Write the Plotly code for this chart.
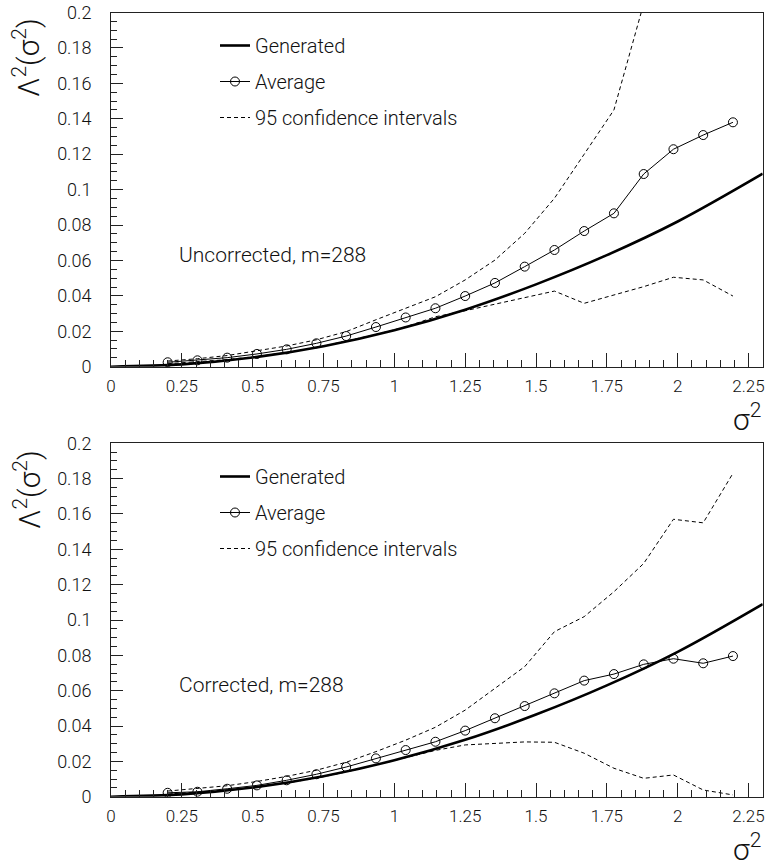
import plotly.graph_objects as go

# sigma^2 points of the averaged curves
sigma2 = [0.2, 0.305, 0.41, 0.515, 0.62, 0.725, 0.83, 0.935, 1.04, 1.145,
          1.25, 1.355, 1.46, 1.565, 1.67, 1.775, 1.88, 1.985, 2.09, 2.195]

# generated curve (same in both panels)
gen_x = [0, 0.25, 0.5, 0.75, 1.0, 1.25, 1.5, 1.75, 2.0, 2.3]
gen_y = [0, 0.0013, 0.0052, 0.0116, 0.0206, 0.0322, 0.0465, 0.063, 0.082, 0.109]

# uncorrected panel
avg_unc = [0.0025, 0.0036, 0.0051, 0.0072, 0.0098, 0.0132, 0.0173, 0.0224, 0.0278, 0.033,
           0.0399, 0.0473, 0.0565, 0.0659, 0.0766, 0.0866, 0.1088, 0.1228, 0.1308, 0.138]
up_unc = [0.0032, 0.0045, 0.0063, 0.0088, 0.0117, 0.0152, 0.0198, 0.0265, 0.033, 0.0395,
          0.049, 0.0602, 0.0753, 0.0951, 0.12, 0.145, 0.205, None, None, None]
lo_unc = [0.0017, 0.0027, 0.004, 0.0058, 0.008, 0.0108, 0.0143, 0.0182, 0.0225, 0.0282,
          0.0316, 0.0354, 0.0392, 0.0427, 0.0358, 0.0405, 0.0452, 0.0505, 0.049, 0.0399]

# corrected panel
avg_cor = [0.0022, 0.0028, 0.0045, 0.0064, 0.0093, 0.0127, 0.0168, 0.0217, 0.0264, 0.0311,
           0.0374, 0.0444, 0.0513, 0.0585, 0.0657, 0.0694, 0.0749, 0.0781, 0.0755, 0.0796]
up_cor = [0.0032, 0.0045, 0.0062, 0.0086, 0.0115, 0.015, 0.0195, 0.0255, 0.032, 0.0393,
          0.049, 0.0613, 0.0736, 0.0934, 0.1019, 0.116, 0.132, 0.157, 0.155, 0.183]
lo_cor = [0.0015, 0.0025, 0.0038, 0.0056, 0.0078, 0.0105, 0.014, 0.018, 0.0222, 0.0262,
          0.0293, 0.0302, 0.031, 0.0308, 0.0246, 0.0161, 0.0104, 0.0123, 0.0038, 0.001]

x_ticks = [0, 0.25, 0.5, 0.75, 1, 1.25, 1.5, 1.75, 2, 2.25]
x_labels = ["0", "0.25", "0.5", "0.75", "1", "1.25", "1.5", "1.75", "2", "2.25"]
y_ticks = [0, 0.02, 0.04, 0.06, 0.08, 0.1, 0.12, 0.14, 0.16, 0.18, 0.2]
y_labels = ["0", "0.02", "0.04", "0.06", "0.08", "0.1", "0.12", "0.14", "0.16", "0.18", "0.2"]

panels = [
    ("Uncorrected, m=288", avg_unc, up_unc, lo_unc, "x", "y", "legend"),
    ("Corrected, m=288", avg_cor, up_cor, lo_cor, "x2", "y2", "legend2"),
]

FONT = "Roboto, Liberation Sans, sans-serif"
W, H = 769, 865


def px_x(p):
    return p / W


def px_y(p):
    return 1 - p / H


fig = go.Figure()

for label, avg, up, lo, xa, ya, leg in panels:
    fig.add_trace(go.Scatter(x=gen_x, y=gen_y, mode="lines", name="Generated",
                             line=dict(color="black", width=2.6, shape="spline"),
                             xaxis=xa, yaxis=ya, legend=leg, legendgroup=leg + "g"))
    fig.add_trace(go.Scatter(x=sigma2, y=avg, mode="lines+markers", name="Average",
                             line=dict(color="black", width=1),
                             marker=dict(symbol="circle-open", size=9, color="black",
                                         line=dict(width=1)),
                             xaxis=xa, yaxis=ya, legend=leg, legendgroup=leg + "a"))
    fig.add_trace(go.Scatter(x=sigma2, y=up, mode="lines", name="95 confidence intervals",
                             line=dict(color="black", width=1, dash="4px,3px"),
                             xaxis=xa, yaxis=ya, legend=leg, legendgroup=leg + "c"))
    fig.add_trace(go.Scatter(x=sigma2, y=lo, mode="lines", name="95 confidence intervals",
                             line=dict(color="black", width=1, dash="4px,3px"),
                             showlegend=False,
                             xaxis=xa, yaxis=ya, legend=leg, legendgroup=leg + "c"))
    fig.add_annotation(x=0.233, y=0.063, xref=xa, yref=ya, text=label, showarrow=False,
                       xanchor="left", yanchor="middle",
                       font=dict(size=21, color="#111", weight=300))

xdom = [px_x(111), px_x(762.7)]
top_dom = [px_y(366.7), px_y(12.5)]
bot_dom = [px_y(796.7), px_y(443.3)]

xcommon = dict(range=[0, 2.3], domain=xdom, tickvals=x_ticks, ticktext=x_labels,
               ticks="inside", ticklen=14, tickcolor="#222", showline=True, linecolor="#222",
               linewidth=1, mirror=True, showgrid=False, zeroline=False, automargin=False,
               ticklabelstandoff=4, ticklabeloverflow="allow",
               minor=dict(dtick=0.05, ticks="inside", ticklen=7, tickcolor="#222"),
               tickfont=dict(size=17, color="#111", weight=300))
ycommon = dict(range=[0, 0.2], tickvals=y_ticks, ticktext=y_labels,
               ticks="inside", ticklen=12, tickcolor="#222", showline=True, linecolor="#222",
               linewidth=1, mirror=True, showgrid=False, zeroline=False, automargin=False,
               ticklabelstandoff=15, ticklabeloverflow="allow",
               minor=dict(dtick=0.005, ticks="inside", ticklen=6, tickcolor="#222"),
               tickfont=dict(size=18, color="#111", weight=300))

legcommon = dict(font=dict(size=20, color="#111", weight=300), bgcolor="rgba(0,0,0,0)",
                 tracegroupgap=7, traceorder="grouped", xanchor="left", yanchor="top",
                 itemclick=False)

fig.update_layout(
    width=W, height=H,
    margin=dict(l=0, r=0, t=0, b=0),
    paper_bgcolor="white", plot_bgcolor="white",
    font=dict(family=FONT, color="#111"),
    showlegend=True,
    xaxis=dict(anchor="y", **xcommon),
    yaxis=dict(anchor="x", domain=top_dom, **ycommon),
    xaxis2=dict(anchor="y2", **xcommon),
    yaxis2=dict(anchor="x2", domain=bot_dom, **ycommon),
    legend=dict(x=px_x(215), y=px_y(26), **legcommon),
    legend2=dict(x=px_x(215), y=px_y(457), **legcommon),
)

# axis titles
for ymid, ybot in [(58, 396), (490, 826)]:
    fig.add_annotation(x=px_x(27), y=px_y(ymid), xref="paper", yref="paper",
                       text="Λ<sup>2</sup>(σ<sup>2</sup>)", textangle=-90, showarrow=False,
                       xanchor="center", yanchor="middle",
                       font=dict(size=30, color="#111", weight=300))
    fig.add_annotation(x=px_x(763), y=px_y(ybot), xref="paper", yref="paper",
                       text="σ<sup>2</sup>", showarrow=False,
                       xanchor="right", yanchor="top",
                       font=dict(size=30, color="#111", weight=300))

# drop the default page margin so the 769x865 figure fills the window exactly
fig.write_html("out.html", config={"displayModeBar": False},
               post_script="document.body.style.margin = '0px';")
